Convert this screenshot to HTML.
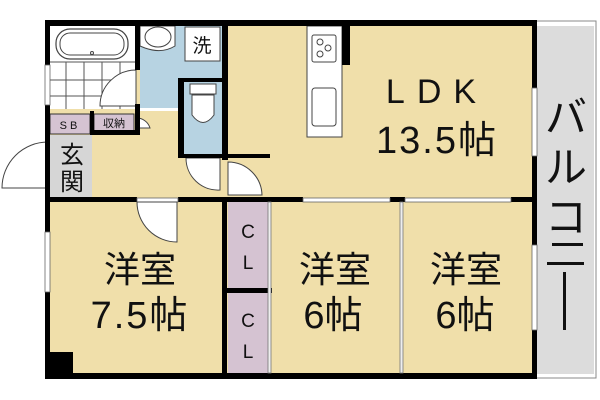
<!DOCTYPE html>
<html><head><meta charset="utf-8"><style>
html,body{margin:0;padding:0;background:#fff;}
svg{display:block;}
text{font-family:"Liberation Sans","Noto Sans CJK JP",sans-serif;fill:#111;}
</style></head><body>
<svg width="600" height="400" viewBox="0 0 600 400">
<rect x="535" y="21" width="61" height="357" fill="#fff" stroke="#888" stroke-width="1"/>
<rect x="537" y="26" width="57" height="348" fill="#dcdcdc"/>
<rect x="50" y="26" width="485" height="349" fill="#f0dfaa"/>
<rect x="50" y="26" width="86" height="83" fill="#fff"/>
<g stroke="#555" stroke-width="1">
<line x1="50" y1="62" x2="136" y2="62"/><line x1="50" y1="80" x2="136" y2="80"/><line x1="50" y1="96" x2="136" y2="96"/>
<line x1="66" y1="62" x2="66" y2="109"/><line x1="84" y1="62" x2="84" y2="109"/><line x1="102" y1="62" x2="102" y2="109"/><line x1="120" y1="62" x2="120" y2="109"/>
</g>
<rect x="56" y="29" width="72" height="30" rx="14" fill="#fff" stroke="#444" stroke-width="1.2"/>
<rect x="60" y="33" width="64" height="22" rx="10" fill="none" stroke="#444" stroke-width="1"/>
<circle cx="92" cy="53" r="1.5" fill="none" stroke="#444"/>
<path d="M136 70 A36 36 0 0 0 100 106 L136 106 Z" fill="#fff" stroke="#444" stroke-width="1"/>
<rect x="140" y="26" width="83" height="84" fill="#b7d3e2"/>
<path d="M140 26 L175 26 L175 46 Q162 54 145 48 L140 46 Z" fill="#fff" stroke="#444"/>
<ellipse cx="158" cy="37" rx="13" ry="10" fill="#fff" stroke="#444"/>
<rect x="185" y="27" width="35" height="34" fill="#fff" stroke="#444"/>
<text x="202" y="52" font-size="19" text-anchor="middle">洗</text>
<rect x="184" y="82" width="38" height="72" fill="#b7d3e2"/>
<rect x="190" y="84" width="26" height="10" fill="#fff" stroke="#444"/>
<path d="M192 95 L214 95 L214 115 Q203 130 192 115 Z" fill="#fff" stroke="#444"/>
<rect x="140" y="108" width="42" height="3" fill="#fff"/>
<rect x="50" y="114" width="40" height="20" fill="#d5c3d2" stroke="#333" stroke-width="1"/>
<text x="70" y="129" font-size="11" text-anchor="middle" letter-spacing="3">SB</text>
<rect x="94" y="114" width="40" height="17" fill="#d5c3d2" stroke="#333" stroke-width="1"/>
<text x="114" y="127" font-size="11" text-anchor="middle">収納</text>
<rect x="50" y="135" width="42" height="62" fill="#d6d6d6"/>
<text x="72" y="163" font-size="24" text-anchor="middle">玄</text>
<text x="72" y="190" font-size="24" text-anchor="middle">関</text>
<path d="M48 142 A46 46 0 0 0 2 188 L48 188 Z" fill="#fff" stroke="#444"/>
<path d="M186 158 L220 158 L220 190 A32 32 0 0 1 186 158 Z" fill="#fff" stroke="#444"/>
<path d="M228 162 L228 195 L262 195 A34 34 0 0 0 228 162 Z" fill="#fff" stroke="#444"/>
<path d="M136 118 A14 14 0 0 1 150 128 L136 128 Z" fill="#fff" stroke="#444"/>
<rect x="307" y="26" width="35" height="111" fill="#fff" stroke="#444"/>
<rect x="312" y="35" width="24" height="27" rx="2" fill="#fff" stroke="#444"/>
<circle cx="320" cy="42" r="3" fill="none" stroke="#444"/><circle cx="328" cy="48" r="3" fill="none" stroke="#444"/><circle cx="320" cy="54" r="3" fill="none" stroke="#444"/>
<rect x="312" y="88" width="24" height="38" rx="3" fill="#fff" stroke="#444"/>
<rect x="228" y="202" width="40" height="87" fill="#d5c3d2"/>
<rect x="228" y="293" width="40" height="80" fill="#d5c3d2"/>
<rect x="50" y="352" width="23" height="23" fill="#000"/>
<g fill="#000">
<rect x="45" y="20" width="492" height="6"/>
<rect x="45" y="373" width="492" height="6"/>
<rect x="45" y="20" width="5" height="359"/>
<rect x="532" y="20" width="5" height="359"/>
<rect x="135" y="20" width="5" height="50"/>
<rect x="135" y="104" width="5" height="30"/>
<rect x="90" y="130" width="50" height="5"/>
<rect x="90" y="111" width="4" height="24"/>
<rect x="222" y="20" width="6" height="140"/>
<rect x="178" y="78" width="6" height="80"/>
<rect x="178" y="78" width="47" height="4"/>
<rect x="178" y="154" width="92" height="4"/>
<rect x="342" y="20" width="8" height="45"/>
<rect x="45" y="197" width="92" height="5"/>
<rect x="178" y="197" width="125" height="5"/>
<rect x="390" y="197" width="15" height="5"/>
<rect x="511" y="197" width="26" height="5"/>
<rect x="222" y="197" width="5" height="180"/>
<rect x="227" y="288" width="45" height="5"/>
</g>
<rect x="45" y="232" width="5" height="60" fill="#fff" stroke="#666" stroke-width="0.8"/>
<rect x="45" y="65" width="5" height="40" fill="#fff" stroke="#666" stroke-width="0.8"/>
<rect x="532" y="88" width="5" height="68" fill="#fff" stroke="#666" stroke-width="0.8"/>
<rect x="532" y="245" width="5" height="85" fill="#fff" stroke="#666" stroke-width="0.8"/>
<rect x="303" y="198" width="87" height="4" fill="#fff" stroke="#666" stroke-width="0.8"/>
<rect x="405" y="198" width="106" height="4" fill="#fff" stroke="#666" stroke-width="0.8"/>
<rect x="137" y="198" width="41" height="4" fill="#fff" stroke="#666" stroke-width="0.8"/>
<rect x="268" y="202" width="3" height="171" fill="#eee" stroke="#777" stroke-width="0.8"/>
<rect x="400" y="202" width="3" height="171" fill="#eee" stroke="#777" stroke-width="0.8"/>
<path d="M137 202 A40 40 0 0 0 177 242 L177 202 Z" fill="#fff" stroke="#444"/>
<text x="437" y="103" font-size="34" text-anchor="middle" letter-spacing="12">LDK</text>
<text x="437" y="153" font-size="38" text-anchor="middle" letter-spacing="2">13.5帖</text>
<text x="140" y="282" font-size="36" text-anchor="middle">洋室</text>
<text x="140" y="328" font-size="38" text-anchor="middle" letter-spacing="2">7.5帖</text>
<text x="335" y="282" font-size="36" text-anchor="middle">洋室</text>
<text x="333" y="328" font-size="38" text-anchor="middle">6帖</text>
<text x="466" y="282" font-size="36" text-anchor="middle">洋室</text>
<text x="465" y="328" font-size="38" text-anchor="middle">6帖</text>
<text x="248" y="238" font-size="19" text-anchor="middle">C</text>
<text x="248" y="269" font-size="19" text-anchor="middle">L</text>
<text x="248" y="327" font-size="19" text-anchor="middle">C</text>
<text x="248" y="358" font-size="19" text-anchor="middle">L</text>
<text x="566" y="132" font-size="42" text-anchor="middle">バ</text>
<text x="566" y="182" font-size="42" text-anchor="middle">ル</text>
<text x="566" y="232" font-size="42" text-anchor="middle">コ</text>
<rect x="552" y="243" width="31" height="3" fill="#111"/>
<rect x="547" y="262" width="37" height="3" fill="#111"/>
<rect x="563" y="272" width="3" height="58" fill="#111"/>
</svg>
</body></html>
